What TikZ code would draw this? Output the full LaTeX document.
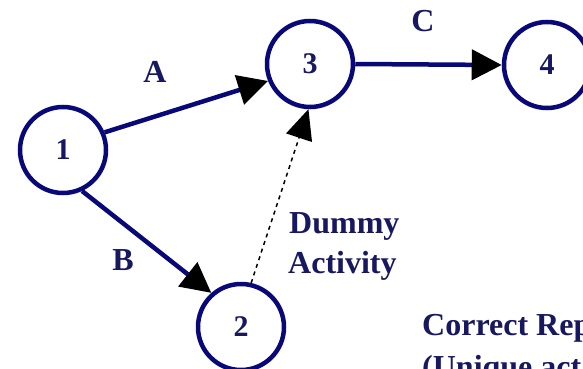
\documentclass[tikz,border=0pt]{standalone}
\usepackage{fontspec}
\setmainfont{Liberation Serif}
\usetikzlibrary{arrows.meta}
\definecolor{navy}{RGB}{8,8,120}
\definecolor{txtnavy}{RGB}{24,24,96}
\tikzset{
  event/.style={circle, draw=navy, line width=4.5pt, inner sep=0pt, minimum size=86pt,
    text=txtnavy, font=\fontsize{30}{36}\selectfont\bfseries},
  activity/.style={draw=navy, line width=4.5pt,
    -{Triangle[length=30pt,width=30pt,color=black]}},
  dummyact/.style={draw=black, line width=1.5pt, dash pattern=on 4pt off 4pt,
    -{Triangle[length=30pt,width=27pt,color=black]}},
  lbl/.style={text=txtnavy, inner sep=0pt, font=\fontsize{32}{40}\selectfont\bfseries}
}
\begin{document}
\begin{tikzpicture}[x=1pt,y=-1pt]
\useasboundingbox (0,0) rectangle (583,369);
\fill[white] (0,0) rectangle (583,369);
\clip (0,0) rectangle (583,369);
\node[event] (n1) at (63,150) {1};
\node[event] (n3) at (310,64) {3};
\node[event] (n4) at (547,65) {4};
\node[event] (n2) at (241,327) {2};
\draw[activity] (n1.23) -- (n3.202);
\draw[activity] (n1.-65) -- (n2.131);
\draw[activity] (n3.east) -- (n4.west);
\draw[dummyact] (n2.77) -- (n3.268);
\node[lbl, anchor=base] (la) at (155,82) {A};
\node[lbl, anchor=base] (lb) at (123,270) {B};
\node[lbl, anchor=base] (lc) at (423,32) {C};
\node[lbl, anchor=base west] (ld1) at (289,233) {Dummy};
\node[lbl, anchor=base west] (ld2) at (288,273) {Activity};
\node[lbl, anchor=base west] (lr1) at (422,335) {Correct Rep};
\node[lbl, anchor=base west] (lr2) at (422,377) {(Unique act};
\end{tikzpicture}
\end{document}
